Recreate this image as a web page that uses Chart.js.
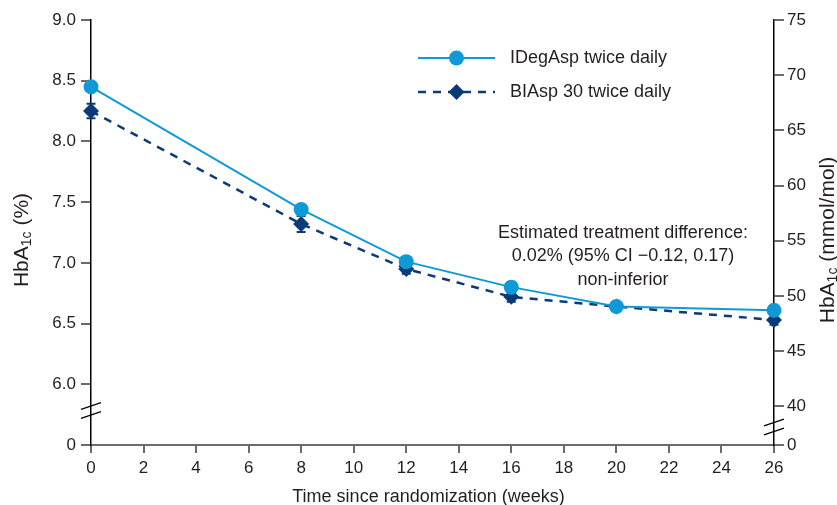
<!DOCTYPE html>
<html lang="en">
<head>
  <meta charset="UTF-8">
  <title>HbA1c over time</title>
  <script src="https://cdn.jsdelivr.net/npm/chart.js"></script>
  <style>
    html, body { margin: 0; padding: 0; background: #fff; }
    #wrap { width: 837px; height: 505px; }
  </style>
</head>
<body>
  <div id="wrap"><canvas id="hba1cChart" width="837" height="505"></canvas></div>

  <script>
    // data
    const weeks = [0, 8, 12, 16, 20, 26];
    const idegasp = [8.45, 7.44, 7.01, 6.80, 6.64, 6.61];
    const biasp = [8.25, 7.32, 6.95, 6.72, 6.64, 6.53];
    const biaspErr = [0.06, 0.065, 0.04, 0.04, 0.03, 0.04];

    const seriesNames = ["IDegAsp twice daily", "BIAsp 30 twice daily"];
    const pctTicks = [6.0, 6.5, 7.0, 7.5, 8.0, 8.5, 9.0];
    const mmolTicks = [40, 45, 50, 55, 60, 65, 70, 75];
    const pctBreak = 5.5;    // bottom of left axis, shown as 0
    const mmolBreak = 36.5;  // bottom of right axis, shown as 0
    const noteLines = [
      "Estimated treatment difference:",
      "0.02% (95% CI \u22120.12, 0.17)",
      "non-inferior"
    ];

    const lightBlue = "#0f9ad7";
    const navy = "#0b3a78";
    const ink = "#231f20";
    const font = "'Liberation Sans', Arial, Helvetica, sans-serif";

    const toPoints = (vals) => weeks.map((w, i) => ({ x: w, y: vals[i] }));

    // error bars on the BIAsp 30 points
    const errorBars = {
      id: "errorBars",
      beforeDatasetsDraw(chart) {
        const ctx = chart.ctx;
        const xs = chart.scales.x, ys = chart.scales.y;
        ctx.save();
        ctx.strokeStyle = navy;
        ctx.lineWidth = 2;
        weeks.forEach((w, i) => {
          const px = xs.getPixelForValue(w);
          const top = ys.getPixelForValue(biasp[i] + biaspErr[i]);
          const bot = ys.getPixelForValue(biasp[i] - biaspErr[i]);
          ctx.beginPath();
          ctx.moveTo(px, top); ctx.lineTo(px, bot);
          ctx.moveTo(px - 4.5, top); ctx.lineTo(px + 4.5, top);
          ctx.moveTo(px - 4.5, bot); ctx.lineTo(px + 4.5, bot);
          ctx.stroke();
        });
        ctx.restore();
      }
    };

    // axis breaks, titles with subscripts, legend and the note
    const decorations = {
      id: "decorations",
      afterDraw(chart) {
        const ctx = chart.ctx;
        const area = chart.chartArea;
        ctx.save();

        // break marks
        ctx.strokeStyle = "#000";
        ctx.lineWidth = 1.3;
        const slash = (cx, cy) => {
          ctx.beginPath();
          ctx.moveTo(cx - 10, cy + 3.3);
          ctx.lineTo(cx + 10, cy - 3.3);
          ctx.stroke();
        };
        slash(area.left, area.bottom - 39);
        slash(area.left, area.bottom - 30);
        slash(area.right, area.bottom - 22.5);
        slash(area.right, area.bottom - 13.5);

        // y titles: HbA1c with subscript
        const subTitle = (cx, cy, tail) => {
          ctx.save();
          ctx.translate(cx, cy);
          ctx.rotate(-Math.PI / 2);
          ctx.fillStyle = ink;
          ctx.textBaseline = "middle";
          const big = "21px " + font, small = "14px " + font;
          ctx.font = big;
          const w1 = ctx.measureText("HbA").width;
          const w3 = ctx.measureText(tail).width;
          ctx.font = small;
          const w2 = ctx.measureText("1c").width;
          let x = -(w1 + w2 + w3) / 2;
          ctx.font = big;
          ctx.textAlign = "left";
          ctx.fillText("HbA", x, 0);
          x += w1;
          ctx.font = small;
          ctx.fillText("1c", x, 5);
          x += w2;
          ctx.font = big;
          ctx.fillText(tail, x, 0);
          ctx.restore();
        };
        subTitle(22, 240, " (%)");
        subTitle(828, 240, " (mmol/mol)");

        // x title
        ctx.fillStyle = ink;
        ctx.font = "18px " + font;
        ctx.textAlign = "center";
        ctx.textBaseline = "middle";
        ctx.fillText("Time since randomization (weeks)", (area.left + area.right) / 2 - 4, 497);

        // legend
        chart.data.datasets.forEach((ds, i) => {
          const y = 58 + i * 34;
          ctx.save();
          ctx.strokeStyle = ds.borderColor;
          ctx.lineWidth = ds.borderWidth;
          ctx.setLineDash(ds.borderDash || []);
          ctx.beginPath();
          ctx.moveTo(418, y); ctx.lineTo(495, y);
          ctx.stroke();
          ctx.restore();
          ctx.fillStyle = ds.backgroundColor;
          ctx.beginPath();
          if (ds.pointStyle === "circle") {
            ctx.arc(456.5, y, ds.pointRadius, 0, Math.PI * 2);
          } else {
            const r = ds.pointRadius;
            ctx.moveTo(456.5, y - r); ctx.lineTo(456.5 + r, y);
            ctx.lineTo(456.5, y + r); ctx.lineTo(456.5 - r, y);
            ctx.closePath();
          }
          ctx.fill();
          ctx.fillStyle = ink;
          ctx.font = "18px " + font;
          ctx.textAlign = "left";
          ctx.textBaseline = "middle";
          ctx.fillText(ds.label, 510, y);
        });

        // note
        ctx.fillStyle = ink;
        ctx.font = "18px " + font;
        ctx.textAlign = "center";
        ctx.textBaseline = "middle";
        noteLines.forEach((t, i) => ctx.fillText(t, 623, 233 + i * 23.5));

        ctx.restore();
      }
    };

    const tickFont = { family: font, size: 17 };
    const tickGrid = { drawOnChartArea: false, drawTicks: true, tickLength: 10, tickColor: "#6b6b6b", lineWidth: 2 };

    new Chart(document.getElementById("hba1cChart").getContext("2d"), {
      type: "line",
      data: {
        datasets: [
          {
            label: seriesNames[0],
            data: toPoints(idegasp),
            yAxisID: "y",
            borderColor: lightBlue,
            backgroundColor: lightBlue,
            borderWidth: 2,
            pointStyle: "circle",
            pointRadius: 7.5,
            pointBorderWidth: 0,
            pointHoverRadius: 7.5,
            tension: 0,
            clip: false
          },
          {
            label: seriesNames[1],
            data: toPoints(biasp),
            yAxisID: "y",
            borderColor: navy,
            backgroundColor: navy,
            borderWidth: 2.5,
            borderDash: [8, 7],
            pointStyle: "rectRot",
            pointRadius: 8,
            pointBorderWidth: 0,
            pointHoverRadius: 8,
            tension: 0,
            clip: false
          }
        ]
      },
      options: {
        responsive: false,
        animation: false,
        events: [],
        layout: { padding: { top: 20, left: 0, right: 0, bottom: 0 } },
        plugins: {
          legend: { display: false },
          tooltip: { enabled: false }
        },
        scales: {
          x: {
            type: "linear",
            position: "bottom",
            min: 0,
            max: 26,
            afterFit: (s) => { s.height = 60; },
            ticks: { stepSize: 2, font: tickFont, color: ink, padding: 5 },
            grid: { ...tickGrid, tickLength: 8 },
            border: { color: "#6b6b6b", width: 2 }
          },
          y: {
            type: "linear",
            position: "left",
            min: pctBreak,
            max: 9.0,
            afterFit: (s) => { s.width = 91; },
            afterBuildTicks: (s) => { s.ticks = [pctBreak, ...pctTicks].map(v => ({ value: v })); },
            ticks: {
              font: tickFont, color: ink, padding: 5,
              callback: (v) => v === pctBreak ? "0" : Number(v).toFixed(1)
            },
            grid: tickGrid,
            border: { color: "#000", width: 1.5 }
          },
          y2: {
            type: "linear",
            position: "right",
            min: mmolBreak,
            max: 75,
            afterFit: (s) => { s.width = 63; },
            afterBuildTicks: (s) => { s.ticks = [mmolBreak, ...mmolTicks].map(v => ({ value: v })); },
            ticks: {
              font: tickFont, color: ink, padding: 3,
              callback: (v) => v === mmolBreak ? "0" : String(v)
            },
            grid: tickGrid,
            border: { color: "#000", width: 1.5 }
          }
        }
      },
      plugins: [errorBars, decorations]
    });
  </script>
</body>
</html>
